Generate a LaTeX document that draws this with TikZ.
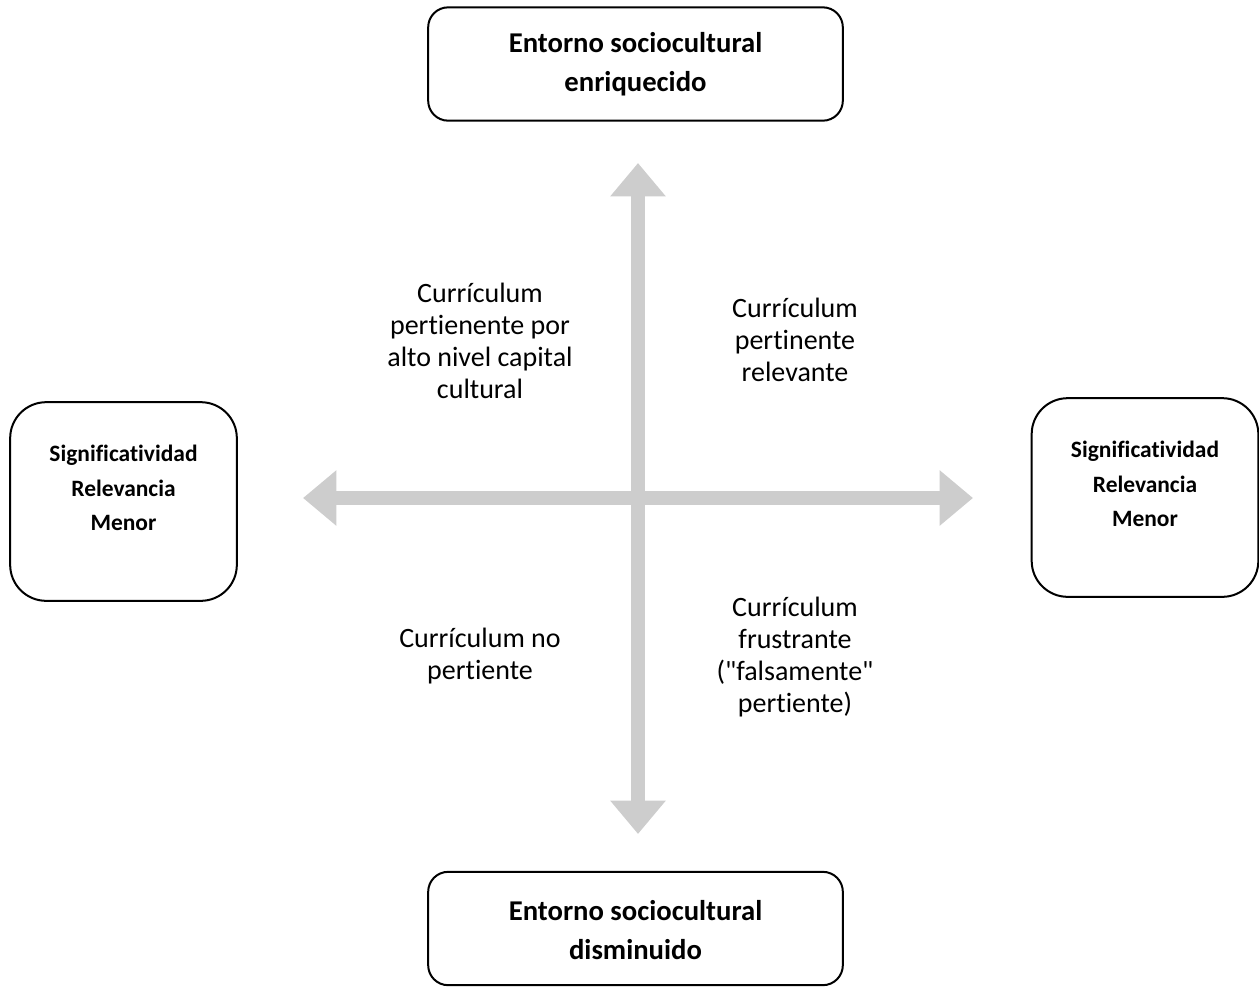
\documentclass[tikz,border=0pt]{standalone}
\usepackage{fontspec}
\setmainfont{Carlito}[Ligatures={TeXOff,NoCommon}]
\usetikzlibrary{arrows.meta}
\definecolor{axisgray}{RGB}{205,205,205}
\begin{document}
\begin{tikzpicture}[x=0.75pt,y=-0.75pt,
  bigbox/.style={draw=black,line width=1.5pt,rounded corners=15pt,minimum width=311pt,minimum height=85pt,inner sep=0pt},
  bigtext/.style={align=center,font=\fontsize{21.5}{29}\selectfont\bfseries,inner sep=0pt},
  sidebox/.style={draw=black,line width=1.5pt,rounded corners=27pt,minimum width=170pt,minimum height=149pt,inner sep=0pt},
  sidetext/.style={align=center,font=\fontsize{17.6}{26}\selectfont\bfseries,inner sep=0pt},
  quadtext/.style={align=center,font=\fontsize{21}{24}\selectfont,inner sep=0pt},
  axis/.style={draw=axisgray,line width=9.8pt,{Triangle[length=25pt,width=40pt]}-{Triangle[length=25pt,width=40pt]},color=axisgray}
]
\useasboundingbox (0,0) rectangle (1259,986);
% axes
\coordinate (vtop) at (638,163);
\coordinate (vbot) at (638,834);
\coordinate (hleft) at (303,498);
\coordinate (hright) at (973,498);
\draw[axis] (vtop) -- (vbot);
\draw[axis] (hleft) -- (hright);
% boxes
\node[bigbox] (top) at (635.5,64) {};
\node[bigtext] (toptxt) at (635.5,64) {Entorno sociocultural\\enriquecido};
\node[bigbox] (bot) at (635.5,928.5) {};
\node[bigtext] (bottxt) at (635.5,930) {Entorno sociocultural\\disminuido};
\node[sidebox] (left) at (123.5,501.5) {};
\node[sidetext] (lefttxt) at (123.5,488) {Significatividad\\Relevancia\\Menor};
\node[sidebox] (right) at (1145,497.5) {};
\node[sidetext] (righttxt) at (1145,484) {Significatividad\\Relevancia\\Menor};
% quadrant labels
\node[quadtext] (q1) at (480,341) {Currículum\\pertienente por\\alto nivel capital\\cultural};
\node[quadtext] (q2) at (795,340) {Currículum\\pertinente\\relevante};
\node[quadtext] (q3) at (480,656) {Currículum no\\pertiente};
\node[quadtext] (q4) at (795,657) {Currículum\\frustrante\\("falsamente"\\pertiente)};
\end{tikzpicture}
\end{document}
